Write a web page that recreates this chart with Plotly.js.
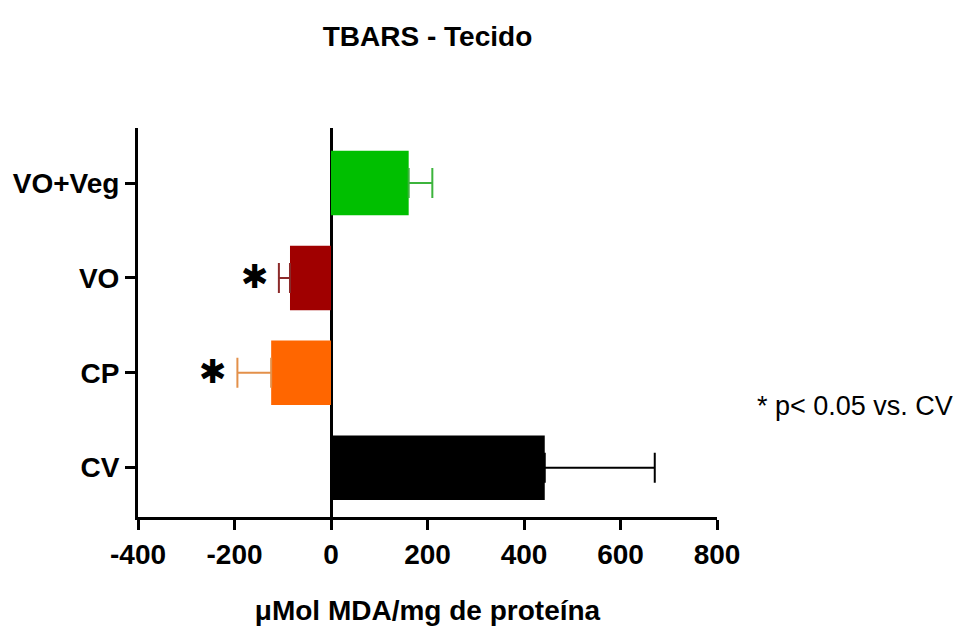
<!DOCTYPE html>
<html>
<head>
<meta charset="utf-8">
<script src="https://cdn.plot.ly/plotly-3.0.1.min.js"></script>
<style>html,body{margin:0;padding:0;background:#fff;}#chart{width:960px;height:626px;}</style>
</head>
<body>
<div id="chart"></div>
<script>
// ---- data ----
const categories = ['CV', 'CP', 'VO', 'VO+Veg'];
const means = [443, -124, -85, 161];
const errPlus = [228, 0, 0, 49];
const errMinus = [0, 70, 23, 0];
const barColors = ['#000000', '#ff6600', '#a00000', '#00bf00'];
const errColors = ['#000000', '#e3904a', '#8c2a2a', '#3cb43c'];
const significant = ['', '✱', '✱', ''];
const xTickVals = [-400, -200, 0, 200, 400, 600, 800];
const xTickText = ['-400', '-200', '0', '200', '400', '600', '800'];

const FONT = 'Liberation Sans, Arial, sans-serif';

const traces = categories.map((c, i) => ({
  type: 'bar',
  orientation: 'h',
  y: [c],
  x: [means[i]],
  width: 0.68,
  marker: {color: barColors[i], line: {width: 0}},
  error_x: {
    type: 'data', symmetric: false,
    array: [errPlus[i]], arrayminus: [errMinus[i]],
    color: errColors[i], thickness: 2, width: 15
  },
  hoverinfo: 'x+y',
  showlegend: false
}));

const annotations = [];
categories.forEach((c, i) => {
  if (significant[i]) {
    annotations.push({
      xref: 'x', yref: 'y', x: means[i] - errMinus[i], y: c,
      text: significant[i], showarrow: false,
      xanchor: 'center', yanchor: 'middle', xshift: -24, yshift: 1,
      font: {family: 'DejaVu Sans, sans-serif', size: 33, color: '#000'}
    });
  }
});
annotations.push({
  xref: 'paper', yref: 'paper', x: 1.066, y: 0.285,
  xanchor: 'left', yanchor: 'middle', showarrow: false,
  text: '* p< 0.05 vs. CV',
  font: {family: FONT, size: 27, color: '#000'}
});

const layout = {
  width: 960, height: 626,
  margin: {l: 138, r: 243, t: 128, b: 109},
  paper_bgcolor: '#fff', plot_bgcolor: '#fff',
  barmode: 'overlay',
  title: {
    text: '<b>TBARS - Tecido</b>',
    x: 0.5, xref: 'paper', xanchor: 'center',
    y: 1 - 36 / 626, yref: 'container', yanchor: 'middle',
    font: {family: FONT, size: 28, color: '#000'}
  },
  xaxis: {
    range: [-400, 800],
    tickvals: xTickVals, ticktext: xTickText,
    showline: true, linecolor: '#000', linewidth: 3,
    ticks: 'outside', ticklen: 10, tickwidth: 3, tickcolor: '#000',
    showgrid: false,
    zeroline: true, zerolinecolor: '#000', zerolinewidth: 3,
    tickfont: {family: FONT, size: 28, color: '#000', weight: 'bold'},
    title: {text: '<b>μMol MDA/mg de proteína</b>', standoff: 36,
            font: {family: FONT, size: 28, color: '#000'}},
    fixedrange: true
  },
  yaxis: {
    type: 'category',
    categoryorder: 'array', categoryarray: categories,
    range: [-0.52, 3.58],
    showline: true, linecolor: '#000', linewidth: 3,
    ticks: 'outside', ticklen: 10, tickwidth: 3, tickcolor: '#000',
    showgrid: false, zeroline: false,
    tickfont: {family: FONT, size: 28, color: '#000', weight: 'bold'},
    fixedrange: true
  },
  annotations: annotations,
  showlegend: false
};

Plotly.newPlot('chart', traces, layout, {displayModeBar: false, staticPlot: true});
</script>
</body>
</html>
